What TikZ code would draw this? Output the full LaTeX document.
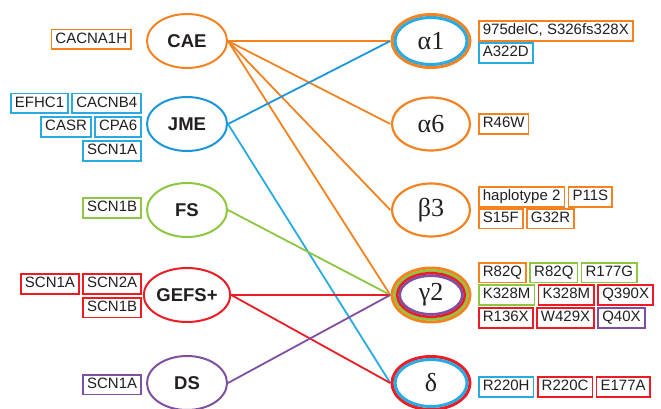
\documentclass[tikz,border=0pt]{standalone}
\usepackage{fontspec}
\setmainfont{Liberation Sans}
\newfontfamily\greekfont{Liberation Serif}
\usetikzlibrary{shapes.geometric,positioning}
\definecolor{cOr}{RGB}{245,130,32}
\definecolor{cBl}{RGB}{27,150,220}
\definecolor{cBb}{RGB}{41,171,226}
\definecolor{cGr}{RGB}{141,198,63}
\definecolor{cRd}{RGB}{237,28,36}
\definecolor{cPu}{RGB}{127,80,161}
\definecolor{cTx}{RGB}{35,31,32}
\begin{document}
\begin{tikzpicture}[x=1pt,y=-1pt,
  dis/.style={ellipse,draw=#1,line width=2pt,minimum width=80pt,minimum height=54pt,inner sep=0pt,font=\fontsize{18.5}{20}\selectfont\bfseries,text=cTx},
  sub/.style={ellipse,minimum width=81pt,minimum height=56pt,inner sep=0pt,font=\greekfont\fontsize{26}{28}\selectfont,text=cTx},
  gb/.style={rectangle,draw=#1,line width=1.7pt,fill=white,text height=11pt,text depth=3.5pt,inner xsep=4pt,inner ysep=2.6pt,font=\fontsize{15}{16}\selectfont,text=cTx},
  conn/.style={draw=#1,line width=1.8pt},
  ring/.style={draw=#1,line width=3pt},
  node distance=2.5pt]
\useasboundingbox (0,0) rectangle (661,409);

% disease ellipses
\node[dis=cOr] (cae) at (187,41) {CAE};
\node[dis=cBl] (jme) at (187,124) {JME};
\node[dis=cGr] (fs) at (187,210) {FS};
\node[dis=cRd] (gefs) at (187,295) {GEFS+};
\node[dis=cPu] (ds) at (187,383) {DS};

% subunit ellipses (anchors)
\node[sub] (a1) at (431,41) {α1};
\node[sub] (a6) at (431,124) {α6};
\node[sub] (b3) at (431,210) {β3};
\node[sub] (g2) at (431,295) {γ2};
\node[sub] (d) at (431,383) {δ};

% rings
\draw[ring=cOr] (a1.center) ellipse [x radius=39pt, y radius=26.5pt];
\draw[ring=cBb] (a1.center) ellipse [x radius=36pt, y radius=23.5pt];
\draw[line width=2.2pt,draw=cOr] (a6.center) ellipse [x radius=39pt, y radius=26.5pt];
\draw[line width=2.2pt,draw=cOr] (b3.center) ellipse [x radius=39pt, y radius=26.5pt];
\draw[ring=cOr] (g2.center) ellipse [x radius=39pt, y radius=27pt];
\draw[line width=2.6pt,draw=cGr] (g2.center) ellipse [x radius=36.3pt, y radius=24.3pt];
\draw[line width=2.6pt,draw=cRd] (g2.center) ellipse [x radius=33.8pt, y radius=21.8pt];
\draw[line width=2.6pt,draw=cPu] (g2.center) ellipse [x radius=31.3pt, y radius=19.3pt];
\draw[ring=cRd] (d.center) ellipse [x radius=39pt, y radius=26.5pt];
\draw[ring=cBb] (d.center) ellipse [x radius=36pt, y radius=23.5pt];

% connectors
\draw[conn=cOr] (cae.east) -- (a1.west);
\draw[conn=cOr] (cae.east) -- (a6.west);
\draw[conn=cOr] (cae.east) -- (b3.west);
\draw[conn=cOr] (cae.east) -- (g2.west);
\draw[conn=cBl] (jme.east) -- (a1.west);
\draw[conn=cBb] (jme.east) -- (d.west);
\draw[conn=cGr] (fs.east) -- (g2.west);
\draw[conn=cRd] (gefs.east) -- (g2.west);
\draw[conn=cRd] (gefs.east) -- (d.west);
\draw[conn=cPu] (ds.east) -- (g2.west);

% left gene boxes
\node[gb=cOr,anchor=east] (l1) at (132,39.5) {CACNA1H};
\node[gb=cBb,anchor=east] (l2) at (142,103.5) {CACNB4};
\node[gb=cBb,left=of l2] (l3) {EFHC1};
\node[gb=cBb,anchor=east] (l4) at (142,127) {CPA6};
\node[gb=cBb,left=of l4] (l5) {CASR};
\node[gb=cBb,anchor=east] (l6) at (142,151) {SCN1A};
\node[gb=cGr,anchor=east] (l7) at (142,208) {SCN1B};
\node[gb=cRd,anchor=east] (l8) at (142,284) {SCN2A};
\node[gb=cRd,left=of l8] (l9) {SCN1A};
\node[gb=cRd,anchor=east] (l10) at (142,307.5) {SCN1B};
\node[gb=cPu,anchor=east] (l11) at (142,384.5) {SCN1A};

% right gene boxes
\node[gb=cOr,anchor=west] (r1) at (478,31) {975delC, S326fs328X};
\node[gb=cBb,anchor=west] (r2) at (478,53) {A322D};
\node[gb=cOr,anchor=west] (r3) at (478,124) {R46W};
\node[gb=cOr,anchor=west] (r4) at (478,197) {haplotype 2};
\node[gb=cOr,right=of r4] (r5) {P11S};
\node[gb=cOr,anchor=west] (r6) at (478,218.5) {S15F};
\node[gb=cOr,right=of r6] (r7) {G32R};
\node[gb=cOr,anchor=west] (r8) at (478,272.5) {R82Q};
\node[gb=cGr,right=of r8] (r9) {R82Q};
\node[gb=cGr,right=of r9] (r10) {R177G};
\node[gb=cGr,anchor=west] (r11) at (478,295) {K328M};
\node[gb=cRd,right=of r11] (r12) {K328M};
\node[gb=cRd,right=of r12] (r13) {Q390X};
\node[gb=cRd,anchor=west] (r14) at (478,318) {R136X};
\node[gb=cRd,right=of r14] (r15) {W429X};
\node[gb=cPu,right=of r15] (r16) {Q40X};
\node[gb=cBb,anchor=west] (r17) at (478,387) {R220H};
\node[gb=cRd,right=of r17] (r18) {R220C};
\node[gb=cRd,right=of r18] (r19) {E177A};
\end{tikzpicture}
\end{document}
